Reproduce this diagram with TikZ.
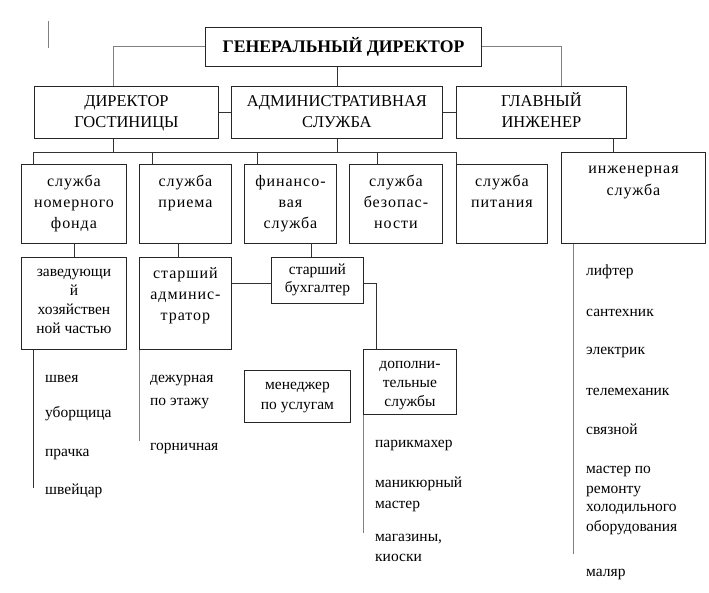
\documentclass[tikz,border=0pt]{standalone}
\usepackage{fontspec}
\setmainfont{Liberation Serif}
\newfontfamily\spacedfont[LetterSpace=6]{Liberation Serif}
\usetikzlibrary{positioning}
\newcommand{\cellt}[4]{\parbox[c][#2pt][t]{#1pt}{\centering\vspace*{\dimexpr#3pt-\ht\strutbox\relax}\strut#4}}
\tikzset{
	unit/.style={draw=black!85, line width=0.9pt, anchor=north west, inner sep=0pt, font=\fontsize{15.5}{21}\selectfont},
	pitch/.style={font=\fontsize{15.5}{#1}\selectfont},
	wide/.style={font=\spacedfont\fontsize{16}{#1}\selectfont},
	head/.style={font=\fontsize{16.5}{21}\selectfont},
	item/.style={anchor=base west, inner sep=0pt, font=\fontsize{15.5}{19}\selectfont},
	link/.style={draw=black!80, line width=0.9pt},
}

\begin{document}
\begin{tikzpicture}[x=1pt, y=-1pt]
		\useasboundingbox (0,0) rectangle (709,593);
		%%%%% BOXES %%%%%
		\node[unit, font=\bfseries\fontsize{17.7}{21}\selectfont] (gd) at (205,27) {\cellt{276}{39}{25}{ГЕНЕРАЛЬНЫЙ ДИРЕКТОР}};
		
		\node[unit, head] (dir) at (34,86) {\cellt{184}{52}{20}{ДИРЕКТОР\\ГОСТИНИЦЫ}};
		\node[unit, head] (adm) at (231,86) {\cellt{211}{52}{20}{АДМИНИСТРАТИВНАЯ\\СЛУЖБА}};
		\node[unit, head] (eng) at (456,86) {\cellt{170}{52}{20}{ГЛАВНЫЙ\\ИНЖЕНЕР}};
		
		\node[unit, wide=21] (fond) at (21,164) {\cellt{105}{79}{22}{служба\\номерного\\фонда}};
		\node[unit, wide=21] (priem) at (139,164) {\cellt{92}{79}{22}{служба\\приема}};
		\node[unit, wide=21] (fin) at (244,164) {\cellt{92}{79}{22}{финансо-\\вая\\служба}};
		\node[unit, wide=21] (bez) at (349,164) {\cellt{93}{79}{22}{служба\\безопас-\\ности}};
		\node[unit, wide=21] (pit) at (456,164) {\cellt{91}{79}{22}{служба\\питания}};
		\node[unit, wide=22] (inzh) at (561,152) {\cellt{144}{91}{21}{инженерная\\служба}};
		
		\node[unit, pitch=19] (zav) at (21,257) {\cellt{105}{92}{19}{заведующи\\й\\хозяйствен\\ной частью}};
		\node[unit, wide=21] (sadm) at (139,257) {\cellt{92}{92}{21}{старший\\админис-\\тратор}};
		\node[unit, pitch=18] (buh) at (271,257) {\cellt{92}{46}{17}{старший\\бухгалтер}};
		\node[unit, pitch=19] (dop) at (363,349) {\cellt{93}{65}{19}{дополни-\\тельные\\службы}};
		\node[unit, pitch=20] (men) at (244,370) {\cellt{106}{52}{19}{менеджер\\по услугам}};
		
		%%%%% LINKS %%%%%
		\draw[link, draw=gray] (gd.west) -| ([xshift=-13pt]dir.north);
		\draw[link, draw=gray] (gd.east) -| ([xshift=20pt]eng.north);
		\draw[link] (gd.south -| adm.north) -- (adm.north);
		\draw[link] (dir.east) -- (adm.west);
		\draw[link] (adm.east) -- (eng.west);
		
		\coordinate (bus) at (33,152);
		\draw[link] (bus) -- (bus -| pit.north west);
		\draw[link] ([xshift=-13pt]dir.south) -- ++(0,14);
		\draw[link] (adm.south) -- ++(0,14);
		\draw[link] ([xshift=72pt]eng.south) -- ++(0,14);
		\foreach \n/\dx in {fond/12, priem/13, fin/13, bez/28, pit/0}
			\draw[link] ([xshift=\dx pt]\n.north west) -- ++(0,-12);
		
		\draw[link] (fond.south) -- (zav.north);
		\draw[link] ([xshift=-7pt]priem.south) -- ++(0,14);
		\draw[link] ([xshift=-6pt]buh.north) -- ++(0,-14);
		\draw[link] ([yshift=-3pt]buh.west) -- ([yshift=-3pt]buh.west -| sadm.east);
		\draw[link] ([yshift=-3pt]buh.east) -| ([xshift=13pt]dop.north west);
		
		%%%%% STAFF %%%%%
		\draw[link] ([xshift=12pt]zav.south west) -- ++(0,138);
		\draw[link, draw=gray] (sadm.south west) -- ++(0,91);
		\draw[link, draw=gray] (dop.south west) -- ++(0,118);
		\draw[link, draw=gray] ([xshift=12pt]inzh.south west) -- ++(0,310);
		
		\foreach \t/\y [count=\i] in {швея/382, уборщица/417, прачка/456, швейцар/494}
			\node[item] (zav-\i) at (45,\y) {\t};
		\foreach \t/\y [count=\i] in {дежурная/382, по этажу/405, горничная/450}
			\node[item] (sadm-\i) at (150,\y) {\t};
		\foreach \t/\y [count=\i] in {парикмахер/447, маникюрный/487, мастер/508, {магазины,}/541, киоски/561}
			\node[item] (dop-\i) at (375,\y) {\t};
		\foreach \t/\y [count=\i] in {лифтер/276, сантехник/317, электрик/354, телемеханик/395, связной/434, мастер по/473, ремонту/493, холодильного/511, оборудования/531, маляр/576}
			\node[item] (inzh-\i) at (586,\y) {\t};
		
		\draw[gray, line width=0.8pt] (48,21) -- (48,48);
	\end{tikzpicture}
\end{document}
